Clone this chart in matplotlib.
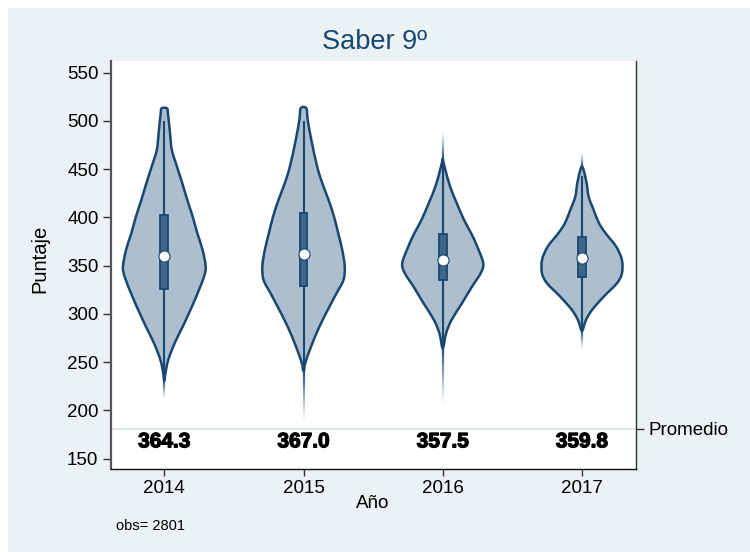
import numpy as np
import matplotlib.pyplot as plt
from matplotlib.patches import Rectangle, PathPatch
from matplotlib.path import Path
from matplotlib.collections import LineCollection
import matplotlib.patheffects as pe

plt.rcParams['font.family'] = ['Liberation Sans', 'DejaVu Sans']

years = ['2014', '2015', '2016', '2017']
means = [364.3, 367.0, 357.5, 359.8]
avg_ref = 181.0
n_obs = 2801

# box stats
q1 = [325.5, 329.0, 335.2, 337.9]
med = [360.0, 361.8, 355.9, 357.7]
q3 = [402.5, 404.3, 382.5, 379.4]
whisk_lo = [231.0, 242.0, 266.0, 283.0]
whisk_hi = [499.2, 499.2, 456.0, 442.2]

# thin fading tails beyond the violin body
tail_hi = [513.1, 513.1, 490.5, 468.1]
tail_lo = [210.8, 184.7, 203.9, 262.7]

# violin outlines: score levels and half widths (x-axis units)
y_2014 = [513.1, 507.9, 487.2, 469.9, 452.6, 435.4, 418.1, 400.8, 383.6, 366.3,
          349.0, 338.6, 321.4, 307.5, 286.8, 269.6, 252.3, 238.5, 231.6]
w_2014 = [0.019, 0.026, 0.041, 0.054, 0.091, 0.129, 0.165, 0.204, 0.237, 0.275,
          0.297, 0.285, 0.239, 0.198, 0.132, 0.074, 0.028, 0.008, 0.002]

y_2015 = [513.1, 501.0, 480.3, 452.6, 435.4, 418.1, 400.8, 383.6, 366.3, 349.0,
          335.2, 321.4, 307.5, 286.8, 266.1, 248.9, 241.9]
w_2015 = [0.020, 0.030, 0.056, 0.098, 0.135, 0.180, 0.219, 0.249, 0.278, 0.296,
          0.287, 0.237, 0.186, 0.114, 0.054, 0.012, 0.004]

y_2016 = [459.5, 449.2, 431.9, 414.7, 397.4, 383.6, 369.7, 352.5, 342.1, 328.3,
          311.0, 293.7, 279.9, 266.1]
w_2016 = [0.001, 0.019, 0.053, 0.101, 0.153, 0.204, 0.248, 0.291, 0.272, 0.210,
          0.138, 0.063, 0.024, 0.005]

y_2017 = [452.6, 449.2, 435.4, 421.5, 407.7, 393.9, 383.6, 369.7, 355.9, 342.1,
          331.8, 317.9, 304.1, 293.7, 283.4]
w_2017 = [0.001, 0.012, 0.034, 0.048, 0.084, 0.123, 0.170, 0.246, 0.287, 0.287,
          0.251, 0.156, 0.072, 0.029, 0.005]

profiles = [(y_2014, w_2014), (y_2015, w_2015), (y_2016, w_2016), (y_2017, w_2017)]

navy = '#1a476f'
fill_c = '#adbfcf'
box_c = '#40678a'
bg = '#eaf2f3'


def smooth_closed_path(pts):
  # catmull-rom through the outline points, as cubic bezier pieces
  pts = np.asarray(pts)
  n = len(pts)
  verts = [pts[0]]
  codes = [Path.MOVETO]
  for k in range(n):
    p0, p1, p2, p3 = pts[(k - 1) % n], pts[k], pts[(k + 1) % n], pts[(k + 2) % n]
    c1 = p1 + (p2 - p0) / 6
    c2 = p2 - (p3 - p1) / 6
    verts += [c1, c2, p2]
    codes += [Path.CURVE4] * 3
  return Path(verts, codes)


def violin_patch(ax, pos, yy, ww, trans_scale):
  yy = np.asarray(yy)
  ww = np.asarray(ww)
  right = np.column_stack([pos + ww, yy])
  left = np.column_stack([pos - ww, yy])[::-1]
  pts = np.vstack([right, left])
  # smooth in pixel-like units so the curve is not distorted
  sx, sy = trans_scale
  path = smooth_closed_path(pts * [sx, sy])
  path = Path(path.vertices / [sx, sy], path.codes)
  ax.add_patch(PathPatch(path, facecolor=fill_c, edgecolor=navy, lw=1.8,
                         zorder=2, joinstyle='round'))


def fading_tail(ax, x, y0, y1, n=30):
  ys = np.linspace(y0, y1, n + 1)
  segs = [[(x, ys[k]), (x, ys[k + 1])] for k in range(n)]
  alphas = np.linspace(1, 0, n) ** 1.3
  cols = [(26 / 255, 71 / 255, 111 / 255, a) for a in alphas]
  ax.add_collection(LineCollection(segs, colors=cols, lw=1.6, zorder=2))


fig = plt.figure(figsize=(7.5, 5.52), dpi=100, facecolor='white')
fig.patches.append(Rectangle((8 / 750, 0), 742 / 750, 544 / 552,
                             transform=fig.transFigure, color=bg, zorder=-10))

ax = fig.add_axes([111 / 750, 1 - 469.3 / 552, (635.7 - 111) / 750, (469.3 - 61) / 552])
ax.set_xlim(0.617, 4.386)
ax.set_ylim(139, 562.1)

ax.axhline(avg_ref, color='#d5e0e5', lw=1.2, zorder=1)

px_per_x = 139.2
px_per_y = 0.965
for i, (yy, ww) in enumerate(profiles):
  pos = i + 1
  violin_patch(ax, pos, yy, ww, (px_per_x, px_per_y))
  fading_tail(ax, pos, yy[0], tail_hi[i])
  fading_tail(ax, pos, yy[-1], tail_lo[i])
  ax.plot([pos, pos], [whisk_lo[i], whisk_hi[i]], color=navy, lw=1.5, zorder=3)
  ax.add_patch(Rectangle((pos - 0.028, q1[i]), 0.056, q3[i] - q1[i],
                         facecolor=box_c, edgecolor=navy, lw=1.3, zorder=4))
  ax.plot(pos, med[i], 'o', ms=8, mfc='white', mec=navy, mew=0.8, zorder=5)
  ax.text(pos, 167.5, f'{means[i]:.1f}', ha='center', va='center',
          fontsize=15, fontweight='bold', color='black', zorder=6,
          path_effects=[pe.withStroke(linewidth=0.9, foreground='black')])

ax.set_xticks([1, 2, 3, 4])
ax.set_xticklabels(years, fontsize=13.5)
ax.set_yticks(np.arange(150, 551, 50))
ax.tick_params(axis='y', labelsize=13.5, length=6, width=1, color='#333333', pad=3)
ax.tick_params(axis='x', length=5, width=1, color='#333333', pad=3)

ax.spines['top'].set_visible(False)
ax.spines['left'].set_color('#555555')
ax.spines['left'].set_linewidth(1.6)
ax.spines['right'].set_color('#333333')
ax.spines['right'].set_linewidth(1.0)
ax.spines['bottom'].set_color('#111111')
ax.spines['bottom'].set_linewidth(1.0)

ax2 = ax.twinx()
ax2.set_ylim(ax.get_ylim())
ax2.set_yticks([avg_ref])
ax2.set_yticklabels(['Promedio'], fontsize=13.5)
ax2.tick_params(axis='y', length=6, width=1, color='#333333', pad=3)
for s in ax2.spines.values():
  s.set_visible(False)

fig.text(375 / 750, 1 - 42 / 552, 'Saber 9º', ha='center', va='center',
         fontsize=19.5, color=navy)
fig.text(40 / 750, 1 - 259 / 552, 'Puntaje', ha='center', va='center',
         rotation=90, fontsize=14.5)
fig.text(373 / 750, 1 - 503 / 552, 'Año', ha='center', va='center', fontsize=13.5)
fig.text(116 / 750, 1 - 526 / 552, f'obs= {n_obs}', ha='left', va='center', fontsize=10.5)

fig.savefig('out.png', dpi=100, facecolor='white')
